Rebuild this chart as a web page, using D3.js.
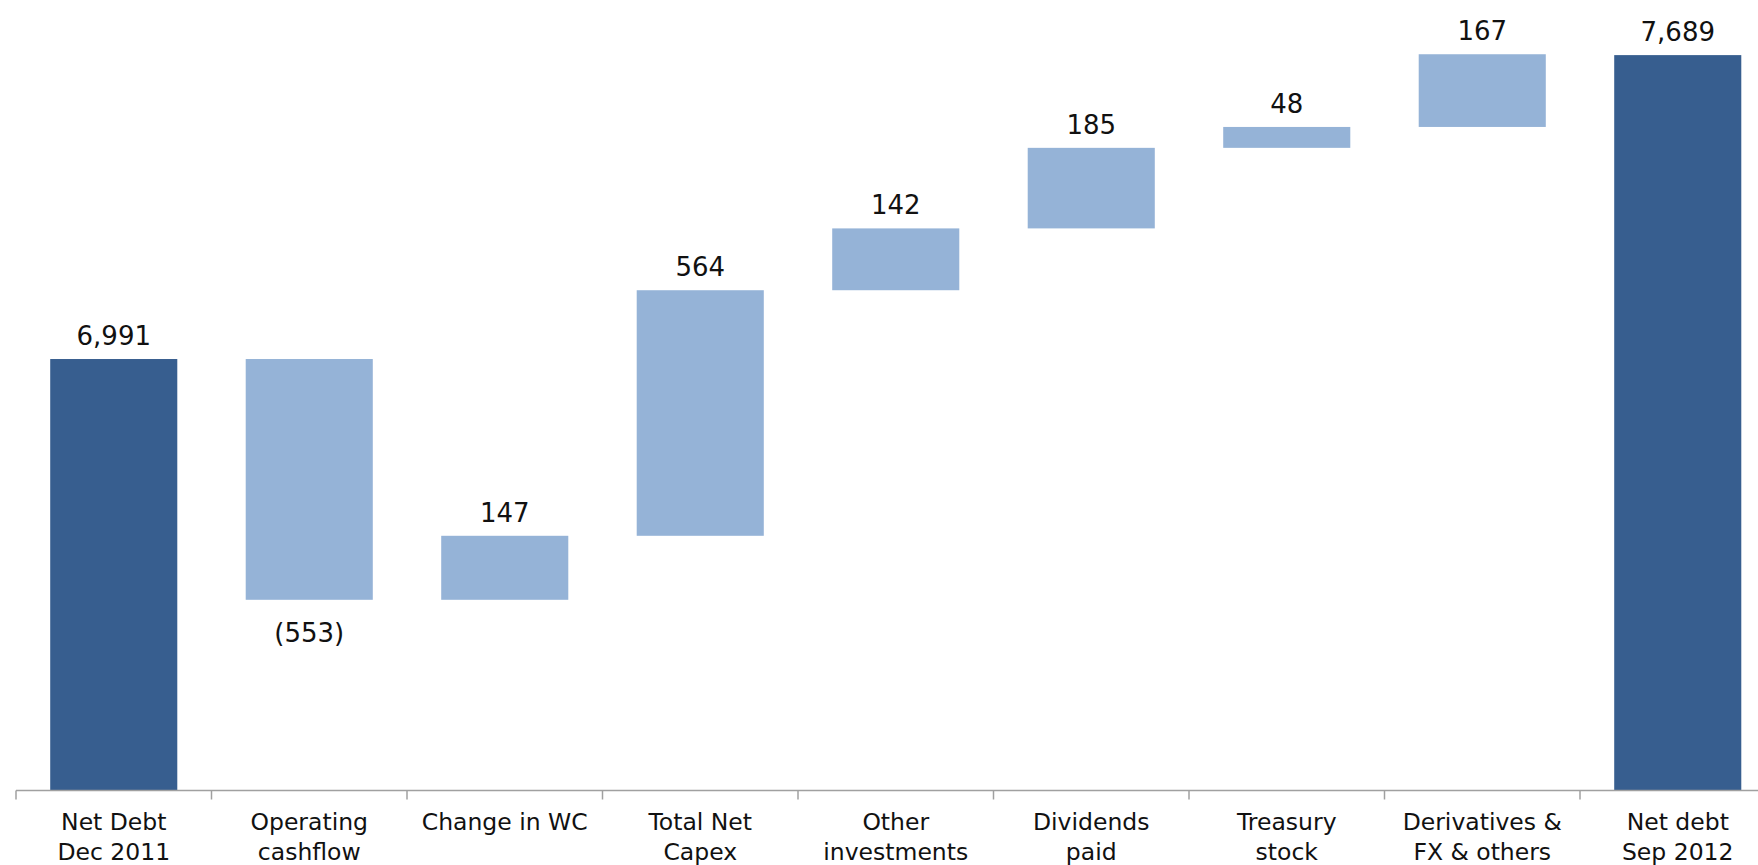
<!DOCTYPE html>
<html>
<head>
<meta charset="utf-8">
<script src="https://cdn.jsdelivr.net/npm/d3@7"></script>
<style>
  html, body { margin: 0; padding: 0; background: #ffffff; }
  svg { display: block; }
  text { font-family: "DejaVu Sans", Verdana, sans-serif; fill: #111111; }
</style>
</head>
<body>
<svg id="chart" width="1758" height="865"></svg>
<script>
// Net debt bridge, Dec 2011 -> Sep 2012 (EUR m)
const categories = [
  ["Net Debt", "Dec 2011"],
  ["Operating", "cashflow"],
  ["Change in WC"],
  ["Total Net", "Capex"],
  ["Other", "investments"],
  ["Dividends", "paid"],
  ["Treasury", "stock"],
  ["Derivatives &", "FX & others"],
  ["Net debt", "Sep 2012"]
];
// "total" bars start from the axis; "delta" bars float on the running total
const kinds  = ["total", "delta", "delta", "delta", "delta", "delta", "delta", "delta", "total"];
const values = [6991, -553, 147, 564, 142, 185, 48, 167, 7689];
const valueLabels = ["6,991", "(553)", "147", "564", "142", "185", "48", "167", "7,689"];
const yDomain = [6000, 7700];

const W = 1758, H = 865;
const axisY = 790.5;
const svg = d3.select("#chart");

// Build floating segments from the running total
let running = 0;
const bars = values.map((v, i) => {
  let lo, hi;
  if (kinds[i] === "total") {
    lo = yDomain[0]; hi = v; running = v;
  } else {
    const start = running;
    running = start + v;
    lo = Math.min(start, running); hi = Math.max(start, running);
  }
  return { i, key: i, kind: kinds[i], value: v, lo, hi, label: valueLabels[i] };
});

const x = d3.scaleBand()
  .domain(d3.range(categories.length))
  .range([16, 16 + 9 * 195.5])
  .paddingInner(0.35)
  .paddingOuter(0.175);

const y = d3.scaleLinear()
  .domain(yDomain)
  .range([axisY, axisY - (yDomain[1] - yDomain[0]) * 0.4354]);

const colors = { total: "#375e8f", delta: "#95b3d7" };

// Bars
svg.append("g").selectAll("rect")
  .data(bars)
  .join("rect")
  .attr("x", d => x(d.i))
  .attr("width", x.bandwidth())
  .attr("y", d => y(d.hi))
  .attr("height", d => y(d.lo) - y(d.hi))
  .attr("fill", d => colors[d.kind]);

// Value labels: above the bar, or below it for decreases
svg.append("g").selectAll("text")
  .data(bars)
  .join("text")
  .attr("x", d => x(d.i) + x.bandwidth() / 2)
  .attr("y", d => d.value < 0 ? y(d.lo) + 42 : y(d.hi) - 14)
  .attr("text-anchor", "middle")
  .attr("font-size", 26)
  .text(d => d.label);

// Category axis with ticks between bands
const axis = svg.append("g");
axis.append("line")
  .attr("x1", x.range()[0]).attr("x2", W)
  .attr("y1", axisY).attr("y2", axisY)
  .attr("stroke", "#a0a0a0").attr("stroke-width", 1.5);

const step = x.step();
const tickXs = d3.range(categories.length + 1).map(k => x.range()[0] + k * step);
axis.selectAll("line.tick")
  .data(tickXs.filter(t => t <= W))
  .join("line")
  .attr("class", "tick")
  .attr("x1", d => d).attr("x2", d => d)
  .attr("y1", axisY).attr("y2", axisY + 9)
  .attr("stroke", "#a0a0a0").attr("stroke-width", 1.5);

const catLabels = axis.selectAll("text")
  .data(categories)
  .join("text")
  .attr("x", (d, i) => x(i) + x.bandwidth() / 2)
  .attr("y", 830)
  .attr("text-anchor", "middle")
  .attr("font-size", 23.5);

catLabels.selectAll("tspan")
  .data(d => d)
  .join("tspan")
  .attr("x", function () { return d3.select(this.parentNode).attr("x"); })
  .attr("dy", (d, k) => k === 0 ? 0 : 29.5)
  .text(d => d);
</script>
</body>
</html>
